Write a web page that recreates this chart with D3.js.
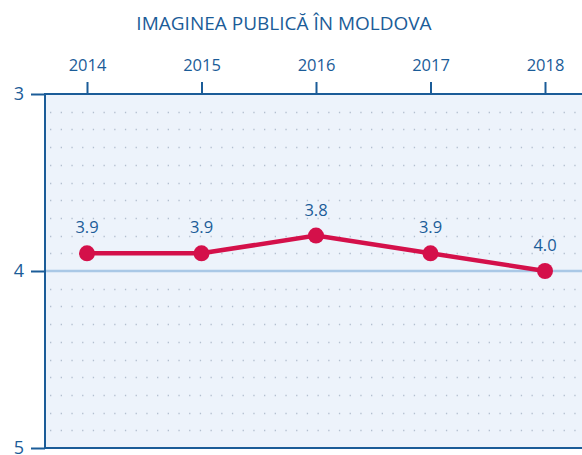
<!DOCTYPE html>
<html>
<head>
<meta charset="utf-8">
<script src="https://cdn.jsdelivr.net/npm/d3@7"></script>
<style>
  body { margin: 0; background: #fff; }
  svg text { font-family: "Open Sans", "Noto Sans", sans-serif; }
</style>
</head>
<body>
<script>
const years = ["2014", "2015", "2016", "2017", "2018"];
const scores = [3.9, 3.9, 3.8, 3.9, 4.0];
const yTicks = [3, 4, 5];
const title = "IMAGINEA PUBLICĂ ÎN MOLDOVA";

const width = 582;
const height = 455;
const margin = { top: 94, right: 0, bottom: 7, left: 45 };
const blue = "#1b5c98";
const red = "#d4104a";

const svg = d3.select("body")
    .append("svg")
    .attr("width", width)
    .attr("height", height);

const x = d3.scalePoint()
    .domain(years)
    .range([87, 545]);

const y = d3.scaleLinear()
    .domain([3, 5])
    .range([margin.top, height - margin.bottom]);

// plot background
svg.append("rect")
    .attr("x", margin.left)
    .attr("y", margin.top)
    .attr("width", width - margin.left)
    .attr("height", y(5) - y(3))
    .attr("fill", "#edf3fb");

// dotted grid every 0.1
const grid = d3.range(31, 50).map(d => d / 10).filter(d => Math.abs(d - 4) > 1e-6);
svg.append("g")
    .selectAll("line")
    .data(grid)
    .join("line")
    .attr("x1", margin.left + 5)
    .attr("x2", width)
    .attr("y1", d => Math.round(y(d)) + 0.5)
    .attr("y2", d => Math.round(y(d)) + 0.5)
    .attr("stroke", "#b3bfcf")
    .attr("stroke-width", 1.3)
    .attr("stroke-dasharray", "1.3 9.4");

// reference line at 4
svg.append("line")
    .attr("x1", margin.left)
    .attr("x2", width)
    .attr("y1", y(4))
    .attr("y2", y(4))
    .attr("stroke", "#a9c8e6")
    .attr("stroke-width", 2.5);

// top axis
const xAxis = svg.append("g")
    .attr("transform", `translate(0,${margin.top})`)
    .call(d3.axisTop(x).tickSize(12).tickPadding(11));
xAxis.select(".domain").remove();
xAxis.selectAll(".tick line").attr("stroke", blue).attr("stroke-width", 2);
xAxis.selectAll(".tick text")
    .attr("fill", blue)
    .attr("font-size", 16.5);

// left axis
const yAxis = svg.append("g")
    .attr("transform", `translate(${margin.left},0)`)
    .call(d3.axisLeft(y).tickValues(yTicks).tickFormat(d3.format("d")).tickSize(14).tickPadding(7));
yAxis.select(".domain").remove();
yAxis.selectAll(".tick line").attr("stroke", blue).attr("stroke-width", 2);
yAxis.selectAll(".tick text")
    .attr("fill", blue)
    .attr("font-size", 18);

// frame lines
svg.append("line")
    .attr("x1", margin.left).attr("x2", width)
    .attr("y1", y(3)).attr("y2", y(3))
    .attr("stroke", blue).attr("stroke-width", 2);
svg.append("line")
    .attr("x1", margin.left).attr("x2", width)
    .attr("y1", y(5)).attr("y2", y(5))
    .attr("stroke", blue).attr("stroke-width", 2);
svg.append("line")
    .attr("x1", margin.left).attr("x2", margin.left)
    .attr("y1", y(3) - 1).attr("y2", y(5) + 1)
    .attr("stroke", blue).attr("stroke-width", 2);

// series
const pts = years.map((d, i) => ({ year: d, value: scores[i] }));

svg.append("path")
    .datum(pts)
    .attr("fill", "none")
    .attr("stroke", red)
    .attr("stroke-width", 4.5)
    .attr("d", d3.line().x(d => x(d.year)).y(d => y(d.value)));

svg.append("g")
    .selectAll("circle")
    .data(pts)
    .join("circle")
    .attr("cx", d => x(d.year))
    .attr("cy", d => y(d.value))
    .attr("r", 8)
    .attr("fill", red);

svg.append("g")
    .selectAll("text")
    .data(pts)
    .join("text")
    .attr("x", d => x(d.year))
    .attr("y", d => y(d.value) - 20)
    .attr("text-anchor", "middle")
    .attr("fill", blue)
    .attr("font-size", 16.5)
    .text(d => d.value.toFixed(1));

// title
svg.append("text")
    .attr("x", 284)
    .attr("y", 30)
    .attr("text-anchor", "middle")
    .attr("fill", blue)
    .attr("font-size", 19)
    .text(title);
</script>
</body>
</html>
